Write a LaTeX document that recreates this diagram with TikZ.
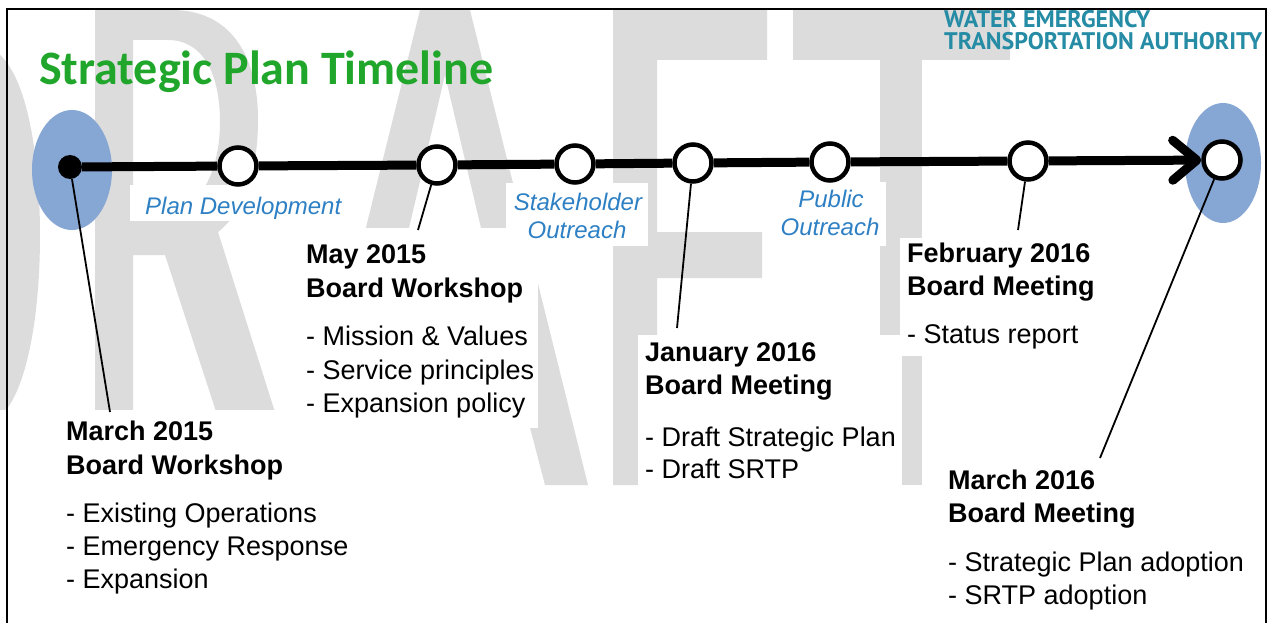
\documentclass[tikz,border=0pt]{standalone}
\usepackage{fontspec}
\setmainfont{Liberation Sans}
\newfontfamily\titlefont{Carlito}
\newfontfamily\logofont{PT Sans}
\usetikzlibrary{arrows.meta}

\definecolor{wmgray}{RGB}{220,220,220}
\definecolor{titlegreen}{RGB}{32,166,42}
\definecolor{logoteal}{RGB}{38,140,165}
\definecolor{phaseblue}{RGB}{46,128,196}
\definecolor{haloblue}{RGB}{134,166,212}

\begin{document}
\begin{tikzpicture}[x=1pt,y=-1pt,
  wm/.style={fill=wmgray},
  halo/.style={fill=haloblue},
  ring/.style={circle, draw=black, fill=white, line width=4.5pt, minimum size=37pt, inner sep=0pt},
  startdot/.style={circle, fill=black, minimum size=24pt, inner sep=0pt},
  mainline/.style={line width=9pt},
  leader/.style={line width=1.8pt},
  evhead/.style={anchor=base west, inner sep=0pt, font=\bfseries\fontsize{27}{32}\selectfont},
  evitem/.style={anchor=base west, inner sep=0pt, font=\fontsize{27}{32}\selectfont},
  phaselbl/.style={anchor=base, inner sep=0pt, text=phaseblue, font=\itshape\fontsize{24}{28}\selectfont},
  logotext/.style={anchor=base west, inner sep=0pt, text=logoteal, font=\logofont\bfseries\fontsize{24}{26}\selectfont},
]
\useasboundingbox (0,0) rectangle (1271,623);
\fill[white] (0,0) rectangle (1271,623);

% ---- DRAFT watermark ----
% D (right half of the bowl)
\fill[wm] (0,55) .. controls (28,80) and (40,160) .. (40,235)
  .. controls (40,320) and (26,385) .. (6,410) -- (0,410) -- cycle;
% R
\fill[wm,even odd rule]
  (95,10) -- (172,10) .. controls (228,10) and (258,52) .. (258,120)
  .. controls (258,178) and (240,215) .. (218,232) -- (298,485) -- (240,485)
  -- (165,255) -- (133,255) -- (133,485) -- (95,485) -- cycle
  (133,40) -- (168,40) .. controls (203,40) and (220,74) .. (220,122)
  .. controls (220,176) and (196,215) .. (162,215) -- (133,215) -- cycle;
% A
\fill[wm,even odd rule]
  (420,10) -- (470,10) -- (588,485) -- (545,485) -- (515,370) -- (375,370)
  -- (345,485) -- (302,485) -- cycle
  (445,75) -- (505,330) -- (385,330) -- cycle;
% F
\fill[wm] (613,485) -- (613,10) -- (767,10) -- (767,60) -- (657,60) -- (657,232)
  -- (762,232) -- (762,278) -- (657,278) -- (657,485) -- cycle;
% T
\fill[wm] (793,10) rectangle (1010,60);
\fill[wm] (880,60) rectangle (922,485);

% ---- white panels behind the text blocks ----
\fill[white] (0,410) rectangle (390,623);
\fill[white] (300,228) rectangle (538,428);
\fill[white] (638,335) rectangle (902,492);
\fill[white] (900,238) rectangle (1100,356);
\fill[white] (938,458) rectangle (1255,615);
\fill[white] (130,185) rectangle (348,221);
\fill[white] (506,183) rectangle (648,246);
\fill[white] (775,182) rectangle (886,246);

% ---- frame ----
\draw[line width=2pt] (7,623) -- (7,9.5) -- (1266,9.5) -- (1266,623);

% ---- title and logo ----
\node[anchor=base west, inner sep=0pt, text=titlegreen,
      font=\titlefont\bfseries\fontsize{48}{52}\selectfont] (title) at (39,85) {Strategic Plan Timeline};
\node[logotext] (logoa) at (944,28) {WATER EMERGENCY};
\node[logotext] (logob) at (944,50) {TRANSPORTATION AUTHORITY};

% ---- start and end halos ----
\fill[halo] (72,170) ellipse [x radius=40pt, y radius=60pt];
\fill[halo] (1223,163) ellipse [x radius=38pt, y radius=60pt];

% ---- timeline milestones ----
\node[startdot] (n0) at (70,167) {};
\node[ring] (n1) at (238,166) {};
\node[ring] (n2) at (437,165) {};
\node[ring] (n3) at (575,164) {};
\node[ring] (n4) at (693,163) {};
\node[ring] (n5) at (830,162) {};
\node[ring] (n6) at (1028,161) {};
\node[ring] (n7) at (1222,160) {};

\draw[mainline] (n0) -- (n1);
\draw[mainline] (n1) -- (n2);
\draw[mainline] (n2) -- (n3);
\draw[mainline] (n3) -- (n4);
\draw[mainline] (n4) -- (n5);
\draw[mainline] (n5) -- (n6);
\draw[mainline, -{Straight Barb[round, length=24pt, width=40pt]}] (n6) -- (n7);

% ---- leader lines to the meetings ----
\coordinate (e0) at (110,412);
\coordinate (e2) at (418,230);
\coordinate (e4) at (677,328);
\coordinate (e6) at (1018,230);
\coordinate (e7) at (1100,458);
\draw[leader] (n0) -- (e0);
\draw[leader] (n2) -- (e2);
\draw[leader] (n4) -- (e4);
\draw[leader] (n6) -- (e6);
\draw[leader] (n7) -- (e7);

% ---- phase labels ----
\node[phaselbl, anchor=base west] (ph1) at (145,214) {Plan Development};
\node[phaselbl] (ph2a) at (578,210) {Stakeholder};
\node[phaselbl] (ph2b) at (577,238) {Outreach};
\node[phaselbl] (ph3a) at (831,207) {Public};
\node[phaselbl] (ph3b) at (830,235) {Outreach};

% ---- meetings ----
\node[evhead] (m15a) at (66,440) {March 2015};
\node[evhead] (m15b) at (66,474) {Board Workshop};
\node[evitem] (m15c) at (66,522) {- Existing Operations};
\node[evitem] (m15d) at (66,555) {- Emergency Response};
\node[evitem] (m15e) at (66,588) {- Expansion};

\node[evhead] (y15a) at (306,263) {May 2015};
\node[evhead] (y15b) at (306,297) {Board Workshop};
\node[evitem] (y15c) at (306,345) {- Mission \& Values};
\node[evitem] (y15d) at (306,379) {- Service principles};
\node[evitem] (y15e) at (306,412) {- Expansion policy};

\node[evhead] (j16a) at (645,361) {January 2016};
\node[evhead] (j16b) at (645,394) {Board Meeting};
\node[evitem] (j16c) at (645,446) {- Draft Strategic Plan};
\node[evitem] (j16d) at (645,478) {- Draft SRTP};

\node[evhead] (f16a) at (907,262) {February 2016};
\node[evhead] (f16b) at (907,295) {Board Meeting};
\node[evitem] (f16c) at (907,343) {- Status report};

\node[evhead] (r16a) at (948,489) {March 2016};
\node[evhead] (r16b) at (948,522) {Board Meeting};
\node[evitem] (r16c) at (948,571) {- Strategic Plan adoption};
\node[evitem] (r16d) at (948,604) {- SRTP adoption};
\end{tikzpicture}
\end{document}
